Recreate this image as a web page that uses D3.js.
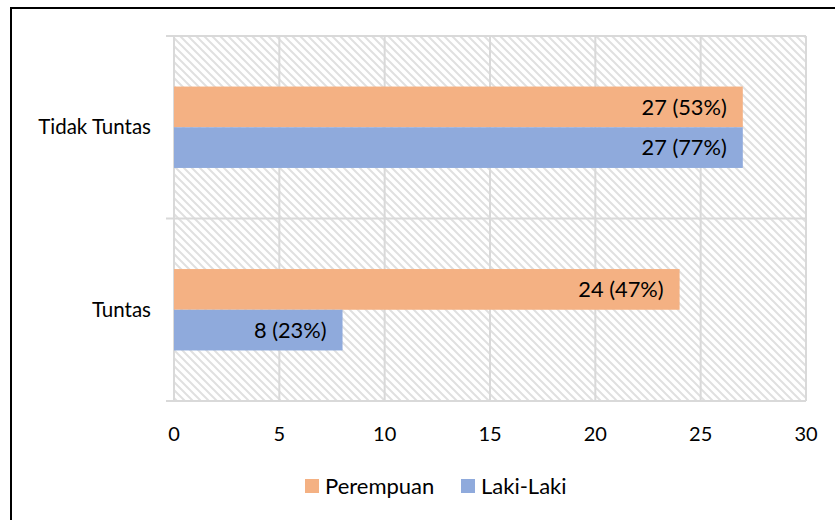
<!DOCTYPE html>
<html>
<head>
<meta charset="utf-8">
<title>Tuntas / Tidak Tuntas</title>
<script src="https://d3js.org/d3.v7.min.js"></script>
<style>
  body { margin: 0; background: #fff; }
  svg { display: block; font-family: Lato, "Open Sans", sans-serif; }
  .grid line { stroke: #d9d9d9; stroke-width: 2px; }
  .tick-lbl { font-size: 20px; fill: #000; }
  .cat-lbl { font-size: 20.5px; fill: #000; }
  .bar-lbl { font-size: 21.8px; fill: #000; }
  .legend text { font-size: 22px; fill: #000; }
</style>
</head>
<body>
<div id="chart"></div>
<script>
// data
var categories = ['Tidak Tuntas', 'Tuntas'];
var series = ['Perempuan', 'Laki-Laki'];
var perempuan = [27, 24];
var lakiLaki = [27, 8];
var labelsPerempuan = ['27 (53%)', '24 (47%)'];
var labelsLaki = ['27 (77%)', '8 (23%)'];
var xTicks = [0, 5, 10, 15, 20, 25, 30];
var colors = ['#F4B183', '#8FAADC'];

var width = 835, height = 520;
var plot = {left: 174, right: 806, top: 36, bottom: 401};

var svg = d3.select('#chart').append('svg')
  .attr('width', width)
  .attr('height', height);

// hatch fill for the plot area
var defs = svg.append('defs');
defs.append('pattern')
  .attr('id', 'hatch')
  .attr('patternUnits', 'userSpaceOnUse')
  .attr('width', 8).attr('height', 8)
  .append('path')
  .attr('d', 'M-2,-2 L10,10 M-2,6 L2,10 M6,-2 L10,2')
  .attr('stroke', '#e0e0e0')
  .attr('stroke-width', 2);

// outer border (runs off the right/bottom edge like the screenshot)
svg.append('rect')
  .attr('x', 11).attr('y', 8)
  .attr('width', 900).attr('height', 600)
  .attr('fill', 'none')
  .attr('stroke', '#000')
  .attr('stroke-width', 2);

var xScale = d3.scaleLinear()
  .domain([0, 30])
  .range([plot.left, plot.right]);

var yScale = d3.scaleBand()
  .domain(categories)
  .range([plot.top, plot.bottom])
  .padding(0);

var ySub = d3.scaleBand()
  .domain(series)
  .range([yScale.bandwidth() * 0.277, yScale.bandwidth() * 0.723]);

svg.append('rect')
  .attr('x', plot.left).attr('y', plot.top)
  .attr('width', plot.right - plot.left)
  .attr('height', plot.bottom - plot.top)
  .attr('fill', 'url(#hatch)');

// vertical gridlines
var grid = svg.append('g').attr('class', 'grid');
grid.selectAll('.vg')
  .data(xTicks)
  .enter()
  .append('line')
  .attr('x1', function(d){ return xScale(d); })
  .attr('x2', function(d){ return xScale(d); })
  .attr('y1', plot.top)
  .attr('y2', plot.bottom);

// horizontal lines at category boundaries, with little ticks to the left
var bounds = categories.map(function(c){ return yScale(c); }).concat([plot.bottom]);
grid.selectAll('.hg')
  .data(bounds)
  .enter()
  .append('line')
  .attr('x1', plot.left - 8)
  .attr('x2', plot.right)
  .attr('y1', function(d){ return d; })
  .attr('y2', function(d){ return d; });

// x axis labels
svg.append('g')
  .selectAll('text')
  .data(xTicks)
  .enter()
  .append('text')
  .attr('class', 'tick-lbl')
  .attr('x', function(d){ return xScale(d); })
  .attr('y', 441)
  .attr('text-anchor', 'middle')
  .text(function(d){ return d; });

// category labels
svg.append('g')
  .selectAll('text')
  .data(categories)
  .enter()
  .append('text')
  .attr('class', 'cat-lbl')
  .attr('x', 151)
  .attr('y', function(d){ return yScale(d) + yScale.bandwidth() / 2; })
  .attr('dy', '0.35em')
  .attr('text-anchor', 'end')
  .text(function(d){ return d; });

// bars
var rows = [];
categories.forEach(function(c, i){
  rows.push({cat: c, s: series[0], v: perempuan[i], lbl: labelsPerempuan[i], col: colors[0]});
  rows.push({cat: c, s: series[1], v: lakiLaki[i], lbl: labelsLaki[i], col: colors[1]});
});

svg.append('g')
  .selectAll('rect')
  .data(rows)
  .enter()
  .append('rect')
  .attr('x', xScale(0))
  .attr('y', function(d){ return yScale(d.cat) + ySub(d.s); })
  .attr('width', function(d){ return xScale(d.v) - xScale(0); })
  .attr('height', ySub.bandwidth())
  .attr('fill', function(d){ return d.col; });

svg.append('g')
  .selectAll('text')
  .data(rows)
  .enter()
  .append('text')
  .attr('class', 'bar-lbl')
  .attr('x', function(d){ return xScale(d.v) - 16; })
  .attr('y', function(d){ return yScale(d.cat) + ySub(d.s) + ySub.bandwidth() / 2; })
  .attr('dy', '0.35em')
  .attr('text-anchor', 'end')
  .text(function(d){ return d.lbl; });

// legend
var legendX = [305, 461];
var legend = svg.append('g').attr('class', 'legend')
  .selectAll('g')
  .data(series)
  .enter()
  .append('g')
  .attr('transform', function(d, i){ return 'translate(' + legendX[i] + ',479)'; });

legend.append('rect')
  .attr('width', 14).attr('height', 14)
  .attr('fill', function(d, i){ return colors[i]; });

legend.append('text')
  .attr('x', 20)
  .attr('y', 7)
  .attr('dy', '0.35em')
  .text(function(d){ return d; });
</script>
</body>
</html>
